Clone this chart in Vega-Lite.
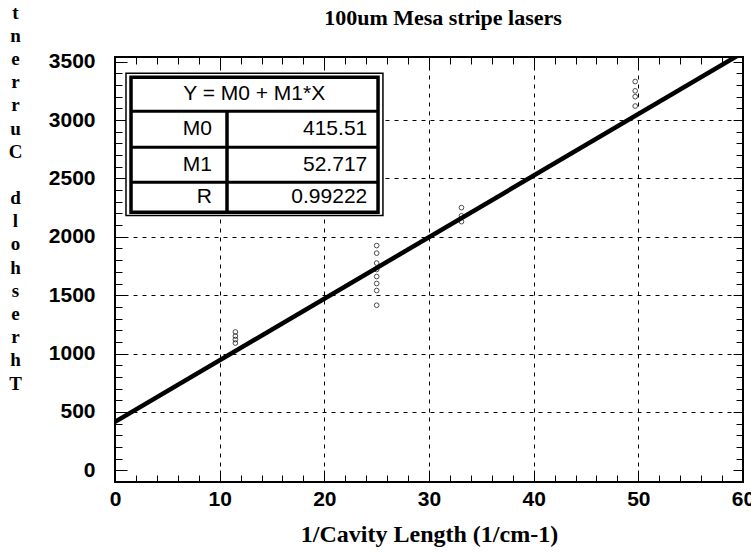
{
  "$schema": "https://vega.github.io/schema/vega-lite/v6.json",
  "width": 628,
  "height": 425,
  "autosize": "none",
  "padding": {"left": 115, "top": 57, "right": 8, "bottom": 71},
  "background": "white",
  "config": {
    "view": {"stroke": "black", "strokeWidth": 2},
    "font": "Liberation Sans"
  },
  "title": {
    "text": "100um Mesa stripe lasers",
    "font": "Liberation Serif",
    "fontSize": 22,
    "fontWeight": "bold",
    "color": "black",
    "anchor": "middle",
    "dx": 14,
    "offset": -27
  },
  "datasets": {
    "fit": [{"x": 0, "y": 415.51}, {"x": 60, "y": 3578.53}],
    "pts": [
      {"x": 11.5, "y": 1185}, {"x": 11.5, "y": 1150}, {"x": 11.5, "y": 1120}, {"x": 11.5, "y": 1090},
      {"x": 25, "y": 1925}, {"x": 25, "y": 1860}, {"x": 25, "y": 1775}, {"x": 25, "y": 1720},
      {"x": 25, "y": 1660}, {"x": 25, "y": 1600}, {"x": 25, "y": 1540}, {"x": 25, "y": 1414},
      {"x": 33.1, "y": 2250}, {"x": 33.1, "y": 2180}, {"x": 33.1, "y": 2130},
      {"x": 49.7, "y": 3330}, {"x": 49.7, "y": 3250}, {"x": 49.7, "y": 3200}, {"x": 49.7, "y": 3120}
    ],
    "boxes": [
      {"part": "outer", "x1": 1.05, "x2": 25.6, "y1": 2183, "y2": 3401},
      {"part": "inner", "x1": 1.53, "x2": 25.13, "y1": 2211, "y2": 3367}
    ],
    "hlines": [
      {"x1": 1.53, "x2": 25.13, "y1": 3076},
      {"x1": 1.53, "x2": 25.13, "y1": 2768},
      {"x1": 1.53, "x2": 25.13, "y1": 2468}
    ],
    "vlines": [{"x1": 10.7, "y1": 2211, "y2": 3076}],
    "head": [{"txt": "Y = M0 + M1*X", "x": 13.3, "y": 3222}],
    "cells": [
      {"txt": "M0", "x": 9.27, "y": 2922},
      {"txt": "M1", "x": 9.27, "y": 2618},
      {"txt": "R", "x": 9.27, "y": 2340},
      {"txt": "415.51", "x": 24.1, "y": 2922},
      {"txt": "52.717", "x": 24.1, "y": 2618},
      {"txt": "0.99222", "x": 24.1, "y": 2340}
    ]
  },
  "resolve": {"axis": {"x": "independent", "y": "independent"}},
  "layer": [
    {
      "data": {"name": "fit"},
      "mark": {"type": "line", "color": "black", "strokeWidth": 4.5, "clip": true},
      "encoding": {
        "x": {
          "field": "x", "type": "quantitative",
          "scale": {"domain": [0, 60], "nice": false, "zero": false},
          "axis": {
            "orient": "bottom",
            "title": "1/Cavity Length (1/cm-1)",
            "titleFont": "Liberation Serif", "titleFontSize": 24, "titleFontWeight": "bold", "titleColor": "black",
            "titlePadding": 8,
            "values": [0,2,4,6,8,10,12,14,16,18,20,22,24,26,28,30,32,34,36,38,40,42,44,46,48,50,52,54,56,58,60],
            "labelExpr": "datum.value % 10 === 0 ? datum.label : ''",
            "labelFont": "Liberation Sans", "labelFontSize": 21, "labelFontWeight": "bold", "labelColor": "black",
            "labelPadding": 18, "labelFlush": false, "labelOverlap": false,
            "domain": false,
            "tickColor": "black", "tickWidth": 1,
            "tickSize": {"condition": {"test": "datum.value % 10 === 0", "value": -12}, "value": -7},
            "grid": true, "gridColor": "black", "gridDash": [4, 5], "gridWidth": 1,
            "gridOpacity": {"condition": {"test": "datum.value % 10 === 0 && datum.value > 0 && datum.value < 60", "value": 1}, "value": 0}
          }
        },
        "y": {
          "field": "y", "type": "quantitative",
          "scale": {"domain": [-100, 3540], "nice": false, "zero": false},
          "axis": {
            "orient": "left",
            "title": ["t","n","e","r","r","u","C"],
            "titleAngle": 0,
            "titleFont": "Liberation Serif", "titleFontSize": 19, "titleFontWeight": "bold", "titleColor": "black",
            "titleLineHeight": 23.2,
            "titleAlign": "center", "titleBaseline": "top",
            "titleX": -100, "titleY": -54,
            "values": [0,100,200,300,400,500,600,700,800,900,1000,1100,1200,1300,1400,1500,1600,1700,1800,1900,2000,2100,2200,2300,2400,2500,2600,2700,2800,2900,3000,3100,3200,3300,3400,3500],
            "labelExpr": "datum.value % 500 === 0 ? datum.label : ''",
            "format": "d",
            "labelFont": "Liberation Sans", "labelFontSize": 21, "labelFontWeight": "bold", "labelColor": "black",
            "labelPadding": 32, "labelFlush": false, "labelOverlap": false,
            "domain": false,
            "tickColor": "black", "tickWidth": 1,
            "tickSize": {"condition": {"test": "datum.value % 500 === 0", "value": -12}, "value": -7},
            "grid": true, "gridColor": "black", "gridDash": [4, 5], "gridWidth": 1,
            "gridOpacity": {"condition": {"test": "datum.value % 500 === 0 && datum.value > 0 && datum.value < 3500", "value": 1}, "value": 0}
          }
        }
      }
    },
    {
      "data": {"name": "pts"},
      "mark": {"type": "point", "shape": "circle", "filled": false, "color": "black", "size": 22, "strokeWidth": 1},
      "encoding": {
        "x": {
          "field": "x", "type": "quantitative",
          "axis": {
            "orient": "top", "title": null, "labels": false, "domain": false, "grid": false,
            "values": [0,2,4,6,8,10,12,14,16,18,20,22,24,26,28,30,32,34,36,38,40,42,44,46,48,50,52,54,56,58,60],
            "tickColor": "black", "tickWidth": 1,
            "tickSize": {"condition": {"test": "datum.value % 10 === 0", "value": -10}, "value": -7}
          }
        },
        "y": {
          "field": "y", "type": "quantitative",
          "axis": {
            "orient": "right", "labels": false, "domain": false, "grid": false,
            "title": ["d","l","o","h","s","e","r","h","T"],
            "titleAngle": 0,
            "titleFont": "Liberation Serif", "titleFontSize": 19, "titleFontWeight": "bold", "titleColor": "black",
            "titleLineHeight": 23.2,
            "titleAlign": "center", "titleBaseline": "top",
            "titleX": -728, "titleY": 131.6,
            "values": [0,100,200,300,400,500,600,700,800,900,1000,1100,1200,1300,1400,1500,1600,1700,1800,1900,2000,2100,2200,2300,2400,2500,2600,2700,2800,2900,3000,3100,3200,3300,3400,3500],
            "tickColor": "black", "tickWidth": 1,
            "tickSize": {"condition": {"test": "datum.value % 500 === 0", "value": -10}, "value": -7}
          }
        }
      }
    },
    {
      "data": {"name": "boxes"},
      "mark": {"type": "rect", "stroke": "black"},
      "encoding": {
        "x": {"field": "x1", "type": "quantitative", "axis": null},
        "x2": {"field": "x2"},
        "y": {"field": "y1", "type": "quantitative", "axis": null},
        "y2": {"field": "y2"},
        "fill": {"condition": {"test": "datum.part === 'outer'", "value": "white"}, "value": null},
        "strokeWidth": {"condition": {"test": "datum.part === 'outer'", "value": 1.5}, "value": 3.5}
      }
    },
    {
      "data": {"name": "hlines"},
      "mark": {"type": "rule", "color": "black", "strokeWidth": 3},
      "encoding": {
        "x": {"field": "x1", "type": "quantitative", "axis": null},
        "x2": {"field": "x2"},
        "y": {"field": "y1", "type": "quantitative", "axis": null}
      }
    },
    {
      "data": {"name": "vlines"},
      "mark": {"type": "rule", "color": "black", "strokeWidth": 3.5},
      "encoding": {
        "x": {"field": "x1", "type": "quantitative", "axis": null},
        "y": {"field": "y1", "type": "quantitative", "axis": null},
        "y2": {"field": "y2"}
      }
    },
    {
      "data": {"name": "head"},
      "mark": {"type": "text", "font": "Liberation Sans", "fontSize": 21, "color": "black", "baseline": "middle", "align": "center"},
      "encoding": {
        "x": {"field": "x", "type": "quantitative", "axis": null},
        "y": {"field": "y", "type": "quantitative", "axis": null},
        "text": {"field": "txt"}
      }
    },
    {
      "data": {"name": "cells"},
      "mark": {"type": "text", "font": "Liberation Sans", "fontSize": 21, "color": "black", "baseline": "middle", "align": "right"},
      "encoding": {
        "x": {"field": "x", "type": "quantitative", "axis": null},
        "y": {"field": "y", "type": "quantitative", "axis": null},
        "text": {"field": "txt"}
      }
    }
  ]
}
